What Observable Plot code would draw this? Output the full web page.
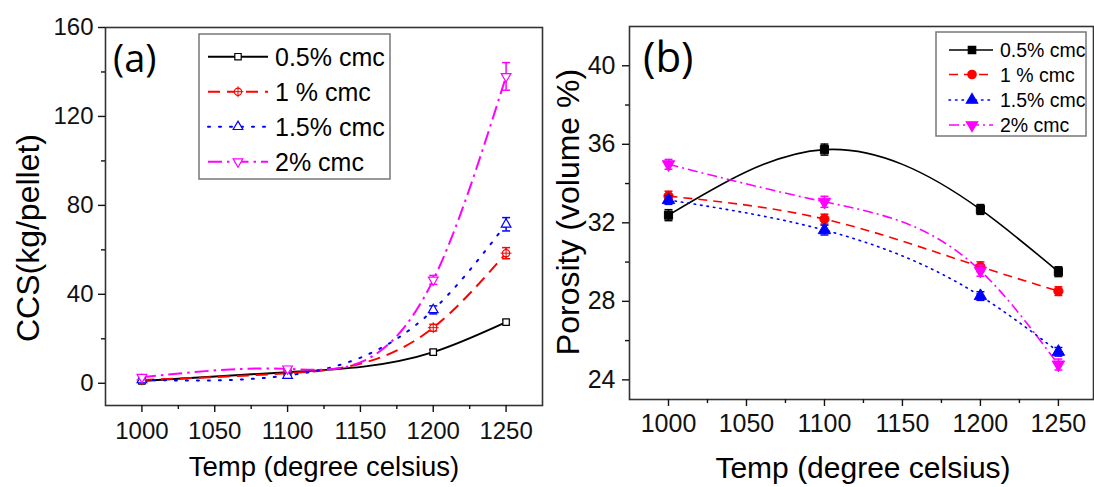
<!DOCTYPE html>
<html><head><meta charset="utf-8">
<script src="https://cdn.jsdelivr.net/npm/d3@7"></script>
<script src="https://cdn.jsdelivr.net/npm/@observablehq/plot@0.6"></script>
<style>
html,body{margin:0;padding:0;background:#fff;overflow:hidden;}
#wrap{position:relative;width:1094px;height:487px;overflow:hidden;background:#fff;}
#a{position:absolute;left:0;top:0;}
#b{position:absolute;left:545px;top:0;}
svg text{font-family:"Liberation Sans",Arial,Helvetica,sans-serif;}
</style></head><body><div id="wrap"><div id="a"></div><div id="b"></div></div>
<script>
// ---------- data ----------
const temps = [1000, 1100, 1200, 1250];
const seriesNames = ["0.5% cmc", "1 % cmc", "1.5% cmc", "2% cmc"];
const seriesColors = ["#000000", "#ff0000", "#0000ff", "#ff00ff"];

// (a) CCS (kg/pellet)
const ccs05 = [1.0, 5.0, 14.0, 27.5];
const ccs1  = [1.5, 4.5, 25.0, 58.5];
const ccs15 = [1.5, 3.5, 33.0, 71.5];
const ccs2  = [2.7, 6.5, 46.5, 138.0];
const ccsErr05 = [0.8, 0.8, 1.0, 1.0];
const ccsErr1  = [0.8, 0.8, 1.5, 2.5];
const ccsErr15 = [0.8, 1.0, 1.8, 3.0];
const ccsErr2  = [1.0, 1.0, 2.0, 6.2];

// (b) Porosity (volume %)
const por05 = [32.39, 35.73, 32.68, 29.51];
const por1  = [33.36, 32.19, 29.76, 28.52];
const por15 = [33.16, 31.63, 28.27, 25.43];
const por2  = [34.98, 33.07, 29.56, 24.78];
const porErr05 = [0.28, 0.28, 0.25, 0.25];
const porErr1  = [0.25, 0.25, 0.25, 0.22];
const porErr15 = [0.22, 0.25, 0.22, 0.22];
const porErr2  = [0.25, 0.28, 0.28, 0.28];

// ticks
const tempTicks = [1000, 1050, 1100, 1150, 1200, 1250];
const tempMinor = [1025, 1075, 1125, 1175, 1225];
const ccsTicks = [0, 40, 80, 120, 160];
const ccsMinor = [20, 60, 100, 140];
const porTicks = [24, 28, 32, 36, 40];
const porMinor = [26, 30, 34, 38];

const FONT = "'Liberation Sans', Arial, Helvetica, sans-serif";

// ---------- natural cubic spline as a function of x (curve factory for Plot) ----------
function curveNaturalX(context) {
  let xs, ys;
  return {
    areaStart() {}, areaEnd() {},
    lineStart() { xs = []; ys = []; },
    point(x, y) { xs.push(+x); ys.push(+y); },
    lineEnd() {
      const n = xs.length;
      if (!n) return;
      context.moveTo(xs[0], ys[0]);
      if (n === 1) return;
      if (n === 2) { context.lineTo(xs[1], ys[1]); return; }
      const h = [];
      for (let i = 0; i < n - 1; i++) h.push(xs[i + 1] - xs[i]);
      const a = [], b = [], c = [], d = [];
      for (let i = 1; i < n - 1; i++) {
        a.push(h[i - 1]); b.push(2 * (h[i - 1] + h[i])); c.push(h[i]);
        d.push(6 * ((ys[i + 1] - ys[i]) / h[i] - (ys[i] - ys[i - 1]) / h[i - 1]));
      }
      const m = b.length;
      for (let i = 1; i < m; i++) { const w = a[i] / b[i - 1]; b[i] -= w * c[i - 1]; d[i] -= w * d[i - 1]; }
      const sol = new Array(m);
      sol[m - 1] = d[m - 1] / b[m - 1];
      for (let i = m - 2; i >= 0; i--) sol[i] = (d[i] - c[i] * sol[i + 1]) / b[i];
      const M = new Array(n).fill(0);
      for (let i = 1; i < n - 1; i++) M[i] = sol[i - 1];
      for (let i = 0; i < n - 1; i++) {
        const hi = h[i], dy = (ys[i + 1] - ys[i]) / hi;
        const d0 = dy - hi * (2 * M[i] + M[i + 1]) / 6;
        const d1 = dy + hi * (M[i] + 2 * M[i + 1]) / 6;
        context.bezierCurveTo(xs[i] + hi / 3, ys[i] + d0 * hi / 3, xs[i + 1] - hi / 3, ys[i + 1] - d1 * hi / 3, xs[i + 1], ys[i + 1]);
      }
    }
  };
}

// ---------- symbols ----------
const sqrt3 = Math.sqrt(3);
const triangleDown = {
  draw(context, size) {
    const y = -Math.sqrt(size / (sqrt3 * 3));
    context.moveTo(0, -y * 2);
    context.lineTo(-sqrt3 * y, y);
    context.lineTo(sqrt3 * y, y);
    context.closePath();
  }
};
const capSymbol = {
  draw(context, size) {
    const w = Math.sqrt(size) / 2;
    context.moveTo(-w, 0);
    context.lineTo(w, 0);
  }
};
const seriesSymbols = ["square", "circle", "triangle", triangleDown];

function buildRows(valArrays, errArrays) {
  return valArrays.flatMap((vals, s) => vals.map((v, i) => ({
    s, t: temps[i], v, lo: v - errArrays[s][i], hi: v + errArrays[s][i]
  })));
}
const ccsRows = buildRows([ccs05, ccs1, ccs15, ccs2], [ccsErr05, ccsErr1, ccsErr15, ccsErr2]);
const porRows = buildRows([por05, por1, por15, por2], [porErr05, porErr1, porErr15, porErr2]);

function panel(cfg) {
  const marks = [
    Plot.frame({stroke: "#333", strokeWidth: 1.6}),
    Plot.axisX(tempTicks, {tickSize: 7, tickPadding: cfg.xPad, fontSize: cfg.tickFont, label: null, strokeWidth: 1.4, tickFormat: d => String(d)}),
    Plot.axisX(tempMinor, {tickSize: 4, tickFormat: () => "", label: null, strokeWidth: 1.4}),
    Plot.axisY(cfg.yTicks, {tickSize: 7, tickPadding: cfg.yPad, fontSize: cfg.tickFont, label: null, strokeWidth: 1.4, tickFormat: d => String(d)}),
    Plot.axisY(cfg.yMinor, {tickSize: 4, tickFormat: () => "", label: null, strokeWidth: 1.4})
  ];
  for (let s = 0; s < 4; s++) {
    const d = cfg.rows.filter(r => r.s === s);
    const c = seriesColors[s];
    marks.push(Plot.line(d, {x: "t", y: "v", stroke: c, strokeWidth: cfg.lineWidth, strokeDasharray: cfg.dash[s], strokeLinecap: s === 2 ? "round" : "butt", curve: curveNaturalX}));
  }
  for (let s = 0; s < 4; s++) {
    const d = cfg.rows.filter(r => r.s === s);
    const c = seriesColors[s];
    marks.push(Plot.ruleX(d, {x: "t", y1: "lo", y2: "hi", stroke: c, strokeWidth: 1.5}));
    marks.push(Plot.dot(d, {x: "t", y: "hi", symbol: capSymbol, r: cfg.capR, stroke: c, strokeWidth: 1.5}));
    marks.push(Plot.dot(d, {x: "t", y: "lo", symbol: capSymbol, r: cfg.capR, stroke: c, strokeWidth: 1.5}));
    if (cfg.filled) {
      marks.push(Plot.dot(d, {x: "t", y: "v", symbol: seriesSymbols[s], r: cfg.markR, fill: c, stroke: c, strokeWidth: 1}));
    } else {
      marks.push(Plot.dot(d, {x: "t", y: "v", symbol: seriesSymbols[s], r: cfg.markR, fill: "white", stroke: c, strokeWidth: 1.2}));
      if (s === 1) marks.push(Plot.dot(d, {x: "t", y: "v", symbol: "plus", r: cfg.markR, stroke: c, strokeWidth: 1}));
    }
  }
  return Plot.plot({
    width: cfg.width, height: 487,
    marginLeft: cfg.ml, marginRight: cfg.mr, marginTop: cfg.mt, marginBottom: cfg.mb,
    x: {type: "linear", domain: cfg.xDomain},
    y: {type: "linear", domain: cfg.yDomain},
    style: {fontFamily: FONT, color: "#111", background: "transparent", overflow: "visible"},
    marks
  });
}

function addText(svg, x, y, str, size, anchor, family) {
  return svg.append("text").attr("x", x).attr("y", y)
    .attr("text-anchor", anchor)
    .style("font-family", family || FONT).style("font-size", size + "px")
    .attr("fill", "#000").text(str);
}

function addDecor(svgNode, cfg) {
  const svg = d3.select(svgNode);
  addText(svg, cfg.panelX, cfg.panelY, cfg.panelText, cfg.panelFont, "start", "'Open Sans', sans-serif");
  addText(svg, cfg.xtX, cfg.xtY, "Temp (degree celsius)", cfg.xtFont, "middle");
  addText(svg, 0, 0, cfg.yTitle, cfg.ytFont, "middle")
    .attr("transform", `translate(${cfg.ytX},${cfg.ytY}) rotate(-90)`);
  const L = cfg.legend;
  svg.append("rect").attr("x", L.x0).attr("y", L.y0).attr("width", L.x1 - L.x0).attr("height", L.y1 - L.y0)
    .attr("fill", "white").attr("stroke", "#777").attr("stroke-width", 1.5);
  seriesNames.forEach((name, s) => {
    const y = L.rows[s];
    const c = seriesColors[s];
    svg.append("line").attr("x1", L.lx0).attr("x2", L.lx1).attr("y1", y).attr("y2", y)
      .attr("stroke", c).attr("stroke-width", cfg.lineWidth)
      .attr("stroke-dasharray", cfg.dash[s] || null).attr("stroke-linecap", s === 2 ? "round" : "butt");
    const sym = typeof seriesSymbols[s] === "string" ? d3["symbol" + seriesSymbols[s][0].toUpperCase() + seriesSymbols[s].slice(1)] : seriesSymbols[s];
    const size = Math.PI * L.r * L.r;
    svg.append("path").attr("d", d3.symbol(sym, size)()).attr("transform", `translate(${L.mx},${y})`)
      .attr("fill", cfg.filled ? c : "white").attr("stroke", c).attr("stroke-width", 1.2);
    if (!cfg.filled && s === 1) {
      svg.append("path").attr("d", d3.symbol(d3.symbolPlus, size)()).attr("transform", `translate(${L.mx},${y})`)
        .attr("fill", "none").attr("stroke", c).attr("stroke-width", 1);
    }
    addText(svg, L.tx, y, name, L.font, "start").attr("dy", "0.36em");
  });
}

// ---------- panel (a) ----------
const cfgA = {
  rows: ccsRows, width: 545, ml: 105, mr: 3, mt: 27, mb: 82,
  xDomain: [975, 1275], yDomain: [-10, 160], yTicks: ccsTicks, yMinor: ccsMinor,
  tickFont: 24, xPad: 9, yPad: 5,
  filled: false, lineWidth: 2, markR: 3.6, capR: 4.5,
  dash: [null, "12,7", "2,9", "14,5,2.5,5"],
  panelText: "(a)", panelX: 113, panelY: 72, panelFont: 38,
  xtX: 324, xtY: 476, xtFont: 27.5,
  ytX: 39, ytY: 238, ytFont: 32, yTitle: "CCS(kg/pellet)",
  legend: {x0: 199, y0: 34, x1: 390, y1: 179, rows: [56.7, 91.7, 126.7, 161.7], lx0: 208, lx1: 268, mx: 238, tx: 275, font: 25, r: 3.6}
};
const plotA = panel(cfgA);
addDecor(plotA, cfgA);
document.getElementById("a").appendChild(plotA);

// ---------- panel (b) ----------
const cfgB = {
  rows: porRows, width: 549, ml: 84, mr: 1, mt: 26, mb: 88,
  xDomain: [975, 1272.5], yDomain: [23, 42], yTicks: porTicks, yMinor: porMinor,
  tickFont: 25, xPad: 8, yPad: 7,
  filled: true, lineWidth: 1.6, markR: 4.6, capR: 4.5,
  dash: [null, "9,6", "1.5,5", "10,4,2,4"],
  panelText: "(b)", panelX: 98, panelY: 72, panelFont: 42,
  xtX: 318, xtY: 478, xtFont: 30,
  ytX: 34, ytY: 212, ytFont: 32, yTitle: "Porosity (volume %)",
  legend: {x0: 391, y0: 32, x1: 541, y1: 136, rows: [50, 74.5, 100, 125], lx0: 404, lx1: 448, mx: 427, tx: 455, font: 19.5, r: 4.2}
};
const plotB = panel(cfgB);
addDecor(plotB, cfgB);
document.getElementById("b").appendChild(plotB);
</script></body></html>
